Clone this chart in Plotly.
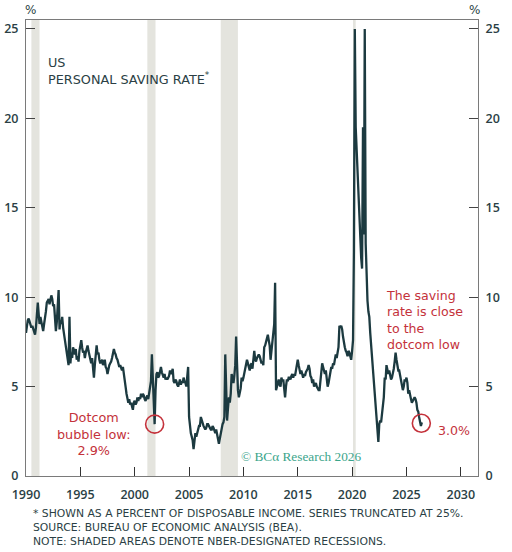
import pandas as pd
import plotly.graph_objects as go

# monthly US personal saving rate, % of disposable income (truncated at 25)
saving_rate = [
    # 1990
    8.0, 8.6, 8.7, 8.8, 8.6, 8.5, 8.3, 8.4, 8.2, 8.0, 7.9, 8.3,
    # 1991
    8.9, 9.7, 9.1, 8.5, 8.9, 8.6, 8.4, 8.1, 8.5, 8.8, 9.2, 9.7,
    # 1992
    9.8, 9.9, 9.6, 9.8, 10.1, 9.9, 9.5, 9.6, 8.9, 8.1, 8.6, 9.4,
    # 1993
    10.4, 8.2, 8.7, 8.5, 8.9, 8.3, 7.9, 7.6, 7.1, 6.9, 6.6, 6.2,
    # 1994
    8.9, 6.3, 6.9, 6.6, 7.2, 7.0, 6.8, 7.1, 6.5, 6.7, 6.4, 7.0,
    # 1995
    7.3, 7.6, 7.2, 6.9, 7.0, 6.6, 6.9, 7.1, 7.3, 7.0, 6.7, 6.5,
    # 1996
    6.3, 6.6, 6.1, 5.5, 6.2, 6.9, 7.3, 6.8, 6.9, 6.5, 6.3, 6.4,
    # 1997
    6.5, 6.2, 6.4, 6.5, 6.1, 6.0, 5.7, 6.1, 6.2, 6.3, 6.4, 6.6,
    # 1998
    6.9, 7.1, 6.9, 6.8, 6.6, 6.5, 6.3, 6.1, 6.2, 6.0, 5.9, 6.1,
    # 1999
    5.8, 5.4, 5.0, 4.6, 4.4, 4.1, 4.3, 4.0, 4.1, 3.9, 3.7, 4.1,
    # 2000
    4.2, 4.0, 4.1, 4.4, 4.2, 4.4, 4.3, 4.6, 4.4, 4.6, 4.5, 4.3,
    # 2001
    4.2, 4.4, 4.5, 4.3, 4.6, 4.8, 5.3, 6.8, 5.6, 4.4, 2.9, 4.8,
    # 2002
    5.7, 5.8, 5.5, 5.6, 5.9, 6.1, 5.8, 5.6, 5.5, 5.7, 5.4, 5.5,
    # 2003
    5.4, 5.5, 5.6, 5.9, 5.7, 5.8, 6.0, 5.3, 5.2, 5.4, 5.3, 5.1,
    # 2004
    5.0, 5.2, 5.4, 5.1, 5.3, 5.2, 5.5, 5.3, 5.2, 5.0, 5.4, 6.1,
    # 2005
    3.3, 2.6, 2.4, 2.2, 2.0, 1.5, 1.9, 2.4, 2.2, 2.5, 2.6, 2.8,
    # 2006
    2.8, 3.3, 3.1, 2.9, 2.8, 2.7, 2.6, 2.7, 2.9, 2.9, 2.8, 2.7,
    # 2007
    2.6, 2.6, 2.8, 2.7, 2.5, 2.4, 2.6, 2.3, 2.1, 1.8, 2.1, 2.4,
    # 2008
    2.8, 2.9, 3.0, 3.3, 6.8, 5.3, 3.1, 3.8, 4.4, 4.1, 4.6, 5.7,
    # 2009
    5.5, 5.2, 5.6, 6.2, 7.8, 5.4, 4.8, 4.4, 4.6, 4.9, 5.5, 5.3,
    # 2010
    5.5, 5.8, 6.1, 6.3, 6.5, 6.3, 6.1, 5.9, 6.2, 6.3, 6.0, 6.4,
    # 2011
    7.0, 6.5, 6.4, 6.6, 6.7, 6.8, 6.7, 6.5, 6.3, 6.4, 6.2, 7.2,
    # 2012
    7.3, 7.5, 7.8, 7.9, 7.6, 7.3, 6.5, 7.0, 7.5, 7.8, 8.5, 10.8,
    # 2013
    4.8, 5.0, 5.2, 5.4, 5.1, 5.0, 5.5, 5.3, 5.4, 4.9, 4.4, 5.0,
    # 2014
    5.4, 5.3, 5.5, 5.5, 5.4, 5.6, 5.7, 5.5, 5.7, 5.6, 5.9, 6.0,
    # 2015
    6.5, 6.2, 6.0, 5.7, 5.9, 5.6, 5.5, 5.7, 5.6, 5.8, 5.9, 6.0,
    # 2016
    6.2, 6.0, 5.6, 5.5, 5.2, 5.4, 5.0, 5.1, 5.2, 5.0, 4.9, 4.8,
    # 2017
    4.8, 5.3, 5.8, 6.3, 6.1, 5.9, 5.7, 5.9, 5.4, 5.0, 5.2, 5.5,
    # 2018
    5.9, 6.1, 6.0, 6.3, 6.2, 6.5, 6.8, 6.6, 6.9, 7.2, 8.4, 8.3,
    # 2019
    8.4, 8.2, 7.8, 7.4, 7.2, 7.0, 6.9, 6.7, 7.0, 6.9, 6.7, 6.5,
    # 2020
    7.0, 7.6, 12.5, 25.0, 19.5, 18.3, 17.0, 15.0, 14.0, 13.0, 12.2, 11.6,
    # 2021
    19.5, 13.5, 25.0, 13.0, 10.5, 9.8, 9.2, 8.9, 8.0, 7.3, 6.7, 6.3,
    # 2022
    5.2, 4.3, 3.7, 3.2, 2.8, 1.9, 2.9, 3.1, 3.0, 3.5, 3.7, 4.4,
    # 2023
    5.5, 5.4, 6.2, 5.9, 5.7, 5.9, 5.6, 5.4, 5.5, 5.7, 6.0, 6.4,
    # 2024
    6.9, 6.5, 6.1, 5.9, 5.9, 5.6, 5.2, 5.0, 4.8, 5.0, 5.4, 5.3,
    # 2025
    5.5, 5.2, 4.6, 4.8, 4.4, 4.3, 4.1, 4.2, 4.3, 4.4, 4.3, 4.1,
    # 2026
    3.7, 3.6, 3.3, 3.1, 2.8, 3.0,
]
months = pd.date_range("1990-01-01", periods=len(saving_rate), freq="MS")

# NBER recessions (start, end)
recessions = [
    ("1990-07-01", "1991-03-31"),
    ("2001-03-01", "2001-11-30"),
    ("2007-12-01", "2009-06-30"),
    ("2020-02-01", "2020-04-30"),
]

# circled points
dotcom_low = ("2001-11-01", 2.9)
latest = ("2026-05-15", 2.95)

x_ticks = [f"{y}-01-01" for y in range(1990, 2031, 5)]
x_labels = [str(y) for y in range(1990, 2031, 5)]
y_ticks = [0, 5, 10, 15, 20, 25]

INK = "#2b3f45"
LINE = "#1c3a40"
RED = "#c4323b"
FONT = "DejaVu Sans"
TICK_FONT = dict(family="Open Sans", size=12.5, color=INK, weight=600)

fig = go.Figure()
fig.add_trace(go.Scatter(
    x=months, y=saving_rate, mode="lines",
    line=dict(color=LINE, width=2.3), showlegend=False, hoverinfo="x+y",
))

for start, end in recessions:
    fig.add_vrect(x0=start, x1=end, fillcolor="#e4e4de", opacity=1,
                  line_width=0, layer="below")

for cx, cy in (dotcom_low, latest):
    fig.add_shape(type="circle", xref="x", yref="y", xsizemode="pixel",
                  ysizemode="pixel", xanchor=cx, yanchor=cy,
                  x0=-9, x1=9, y0=-9, y1=9,
                  line=dict(color=RED, width=1.6))

axis_common = dict(
    range=[0, 25.5], tickvals=y_ticks, ticks="inside", ticklen=9,
    tickcolor="#444444", showgrid=False, zeroline=False, showline=True,
    linecolor="#7a7a7a", linewidth=1, automargin=False, ticklabelstandoff=4,
    tickfont=TICK_FONT,
)

fig.update_layout(
    width=512, height=552,
    margin=dict(l=26, r=34, t=20, b=76),
    paper_bgcolor="white", plot_bgcolor="white",
    font=dict(family=FONT, color=INK),
    xaxis=dict(
        range=["1990-01-01", "2031-08-01"], tickvals=x_ticks, ticktext=x_labels,
        ticks="inside", ticklen=9, tickcolor="#333333", showgrid=False,
        showline=True, linecolor="#7a7a7a", mirror=True, zeroline=False,
        automargin=False, ticklabelstandoff=7, tickfont=TICK_FONT,
    ),
    yaxis=dict(**axis_common, side="left"),
    yaxis2=dict(**axis_common, side="right", overlaying="y"),
)
# invisible trace so the right axis is drawn
fig.add_trace(go.Scatter(x=[months[0]], y=[0], yaxis="y2", mode="markers",
                         marker=dict(opacity=0), showlegend=False, hoverinfo="skip"))

def note(text, x, y, size=11, color=INK, xanchor="left", align="left",
         family=FONT):
    fig.add_annotation(text=text, x=x, y=y, xref="paper", yref="paper",
                       showarrow=False, xanchor=xanchor, yanchor="top",
                       align=align, font=dict(size=size, color=color, family=family))

# pixel helpers: plot area is x 26..478, y 20..476
def px(x):
    return (x - 26) / 452

def py(y):
    return (476 - y) / 456

note("%", px(30), py(1), size=12, xanchor="center")
note("%", px(474), py(1), size=12, xanchor="center")
note("US<br>PERSONAL SAVING RATE<sup>*</sup>", px(46), py(53), size=12.8)
note("Dotcom<br>bubble low:<br>2.9%", px(93), py(408), size=12.8, color=RED,
     xanchor="center", align="center")
note("The saving<br>rate is close<br>to the<br>dotcom low", px(384), py(286),
     size=12.6, color=RED)
note("3.0%", px(436), py(421), size=12.6, color=RED)
note("© BCα Research 2026", px(239), py(447), size=13.3, color="#3ba58b",
     family="Liberation Serif")
note("* SHOWN AS A PERCENT OF DISPOSABLE INCOME. SERIES TRUNCATED AT 25%.<br>"
     "SOURCE: BUREAU OF ECONOMIC ANALYSIS (BEA).<br>"
     "NOTE: SHADED AREAS DENOTE NBER-DESIGNATED RECESSIONS.",
     px(31), py(505), size=10.8)

# page body has a default margin; drop it so the figure sits at the window corner
fig.write_html("out.html", config={"displayModeBar": False},
               post_script="document.body.style.margin = '0';")
